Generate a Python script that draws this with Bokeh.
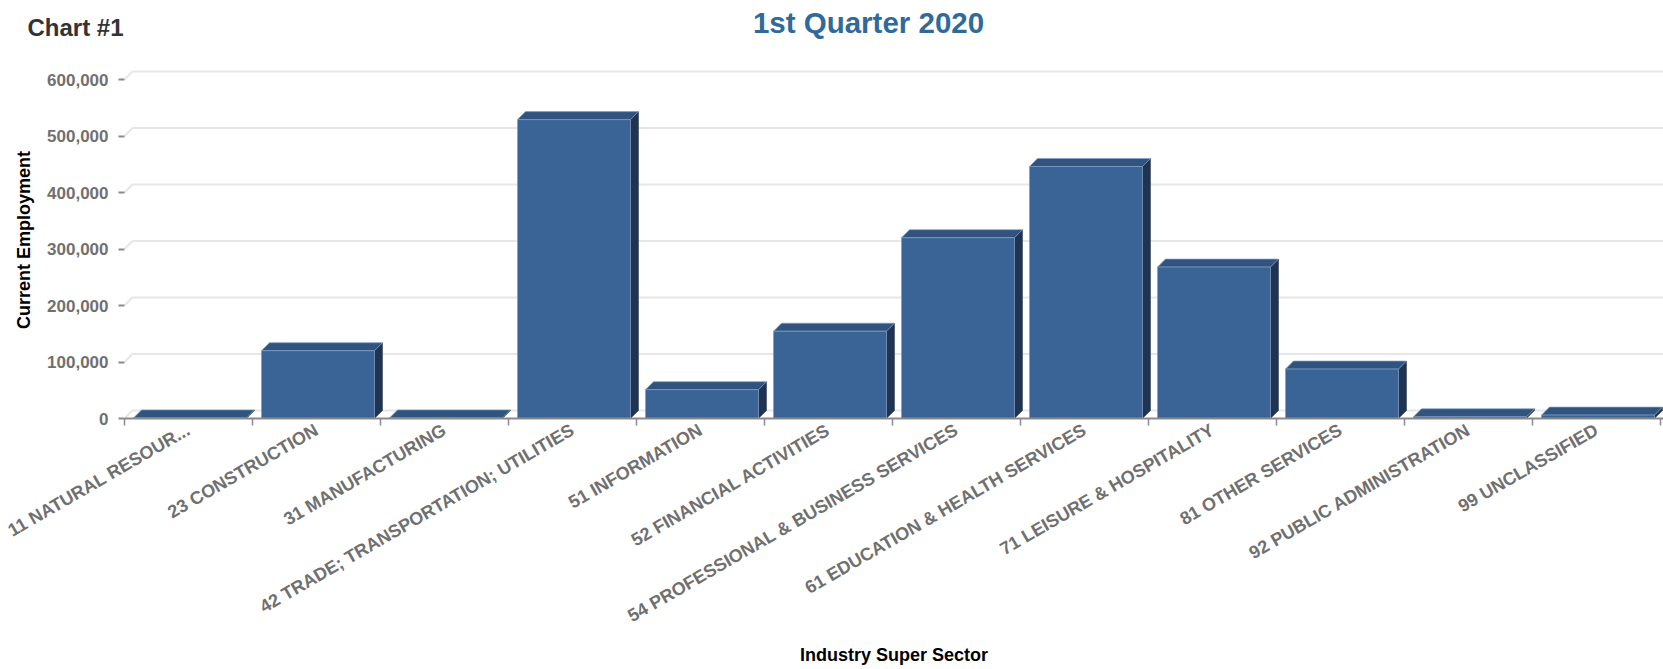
import math
import numpy as np
from bokeh.plotting import figure
from bokeh.layouts import column
from bokeh.models import Range1d, FixedTicker, NumeralTickFormatter, Label
from bokeh.embed import file_html
from bokeh.resources import INLINE

# ---- data ----
categories = [
    "11 NATURAL RESOUR...",
    "23 CONSTRUCTION",
    "31 MANUFACTURING",
    "42 TRADE; TRANSPORTATION; UTILITIES",
    "51 INFORMATION",
    "52 FINANCIAL ACTIVITIES",
    "54 PROFESSIONAL & BUSINESS SERVICES",
    "61 EDUCATION & HEALTH SERVICES",
    "71 LEISURE & HOSPITALITY",
    "81 OTHER SERVICES",
    "92 PUBLIC ADMINISTRATION",
    "99 UNCLASSIFIED",
]
employment = [1000, 120000, 1000, 529000, 51000, 154500, 320000, 446000, 268000, 87500, 3000, 6000]
y_ticks = [0, 100000, 200000, 300000, 400000, 500000, 600000]
chart_label = "Chart #1"
title_text = "1st Quarter 2020"
x_title = "Industry Super Sector"
y_title = "Current Employment"

# ---- style / layout ----
FONT = "Liberation Sans"
FRONT = "#3A6496"
TOPC = "#31547F"
SIDE = "#203451"
GRID = "#E6E6E6"
W = 1663
HEAD_H = 54
H = 615
LEFT = 124
TOP_PAD = 7
FRAME_H = 357
PX_PER_CAT = 128.0
PX_PER_UNIT = 56.5 / 100000.0
DEPTH = 8.0

n = len(categories)
x0 = -0.5
x_end = x0 + (W - LEFT) / PX_PER_CAT
y_end = FRAME_H / PX_PER_UNIT
dx = DEPTH / PX_PER_CAT
dy = DEPTH / PX_PER_UNIT

# ---- header with the two titles ----
head = figure(width=W, height=HEAD_H, x_range=Range1d(0, W), y_range=Range1d(HEAD_H, 0),
              output_backend="svg", toolbar_location=None, x_axis_type=None, y_axis_type=None,
              min_border=0)
head.frame_align = False
head.outline_line_color = None
head.grid.visible = False
head.add_layout(Label(x=27, y=27, text=chart_label, text_font=FONT, text_font_style="bold",
                      text_font_size="24px", text_color="#333333",
                      text_align="left", text_baseline="alphabetic"))
head.add_layout(Label(x=868, y=22, text=title_text, text_font=FONT, text_font_style="bold",
                      text_font_size="29.5px", text_color="#2F6A9A",
                      text_align="center", text_baseline="alphabetic"))

# ---- main chart ----
p = figure(width=W, height=H, x_range=Range1d(x0, x_end), y_range=Range1d(0, y_end),
           output_backend="svg", toolbar_location=None,
           min_border_left=LEFT, min_border_top=TOP_PAD, min_border_right=0,
           min_border_bottom=H - FRAME_H - TOP_PAD)
p.frame_align = False
p.outline_line_color = None
p.xgrid.visible = False
p.ygrid.visible = False

# gridlines with 3D back-wall offset
gx0, gy0, gx1, gy1 = [], [], [], []
for v in y_ticks:
    gx0 += [x0, x0 + dx]
    gy0 += [v, v + dy]
    gx1 += [x0 + dx, x_end]
    gy1 += [v + dy, v + dy]
p.segment(gx0, gy0, gx1, gy1, line_color=GRID, line_width=2)

idx = np.arange(n)
vals = np.array(employment, dtype=float)
lefts = idx - 0.5 + 9 / PX_PER_CAT
rights = idx - 0.5 + 122 / PX_PER_CAT

side_xs = [[r, r + dx, r + dx, r] for r in rights]
side_ys = [[0, dy, v + dy, v] for v in vals]
top_xs = [[l, l + dx, r + dx, r] for l, r in zip(lefts, rights)]
top_ys = [[v, v + dy, v + dy, v] for v in vals]

p.patches(side_xs, side_ys, fill_color=SIDE, line_color=SIDE, line_width=0.5)
p.patches(top_xs, top_ys, fill_color=TOPC, line_color="#7F9CC2", line_width=1, line_alpha=0.7)
p.quad(left=lefts, right=rights, bottom=0, top=vals, fill_color=FRONT,
       line_color="#7F9CC2", line_width=1, line_alpha=0.7)

# x axis
p.xaxis.ticker = FixedTicker(ticks=list(range(n)), minor_ticks=[i - 0.5 for i in range(n + 1)])
p.xaxis.major_label_overrides = {i: c for i, c in enumerate(categories)}
p.xaxis.major_label_orientation = math.radians(30)
p.xaxis.major_tick_line_color = None
p.xaxis.major_tick_out = 0
p.xaxis.major_tick_in = 0
p.xaxis.minor_tick_out = 7
p.xaxis.minor_tick_in = 0
p.xaxis.minor_tick_line_color = "#8A8A8A"
p.xaxis.minor_tick_line_width = 1.5
p.xaxis.axis_line_color = "#8A8A8A"
p.xaxis.axis_line_width = 2
p.xaxis.major_label_text_font = FONT
p.xaxis.major_label_text_font_style = "bold"
p.xaxis.major_label_text_font_size = "18px"
p.xaxis.major_label_text_color = "#707070"
p.xaxis.major_label_standoff = 3
p.xaxis.axis_label = x_title
p.xaxis.axis_label_text_font = FONT
p.xaxis.axis_label_text_font_style = "bold"
p.xaxis.axis_label_text_font_size = "18px"
p.xaxis.axis_label_text_color = "#000000"
p.xaxis.axis_label_standoff = 7

# y axis
p.yaxis.ticker = FixedTicker(ticks=y_ticks)
p.yaxis.formatter = NumeralTickFormatter(format="0,0")
p.yaxis.axis_line_color = None
p.yaxis.major_tick_out = 6
p.yaxis.major_tick_in = 0
p.yaxis.major_tick_line_color = "#8A8A8A"
p.yaxis.major_tick_line_width = 2
p.yaxis.minor_tick_line_color = None
p.yaxis.major_label_text_font = FONT
p.yaxis.major_label_text_font_style = "bold"
p.yaxis.major_label_text_font_size = "17px"
p.yaxis.major_label_text_color = "#707070"
p.yaxis.major_label_standoff = 10
p.yaxis.axis_label = y_title
p.yaxis.axis_label_text_font = FONT
p.yaxis.axis_label_text_font_style = "bold"
p.yaxis.axis_label_text_font_size = "18px"
p.yaxis.axis_label_text_color = "#000000"
p.yaxis.axis_label_standoff = 10

layout = column(head, p, spacing=0)
open("out.html", "w").write(file_html(layout, INLINE))
